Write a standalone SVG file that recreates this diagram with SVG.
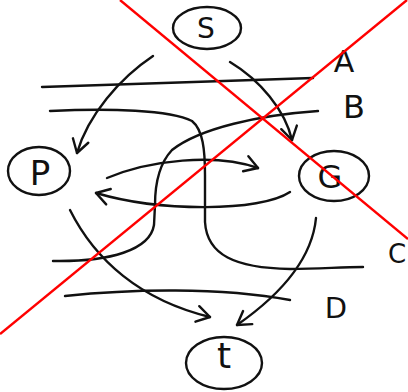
<svg xmlns="http://www.w3.org/2000/svg" width="408" height="392" viewBox="0 0 408 392">
<defs>
<style>
.ln{fill:none;stroke:#111;stroke-width:2.4;stroke-linecap:round;stroke-linejoin:round}
.nd{fill:#fff;stroke:#111;stroke-width:2.4}
.tx{font-family:"DejaVu Sans","Liberation Sans",sans-serif;fill:#111;text-anchor:middle}
.red{stroke:#f00;stroke-width:2.4;fill:none}
</style>
<marker id="ah" markerUnits="userSpaceOnUse" markerWidth="24" markerHeight="24" viewBox="-16 -12 24 24" refX="0" refY="0" orient="auto">
<path d="M-13,-8 L0,0 L-13,8" fill="none" stroke="#111" stroke-width="2.4" stroke-linecap="round" stroke-linejoin="round"/>
</marker>
</defs>
<rect width="408" height="392" fill="#fff"/>
<g id="cuts">
<path class="ln" d="M42,87 C120,85 240,80 313,78"/>
<path class="ln" d="M50,111 C110,108 170,110 192,121 C203,130 205,150 205,175 L205,222 C207,255 235,268 290,269 C320,269 340,267 363,267"/>
<path class="ln" d="M318,111 C260,115 200,128 172,150 C158,165 155,185 155,205 L154,225 C150,250 110,262 53,261"/>
<path class="ln" d="M65,296 C130,289 220,287 290,300"/>
</g>
<g id="connectors">
<path class="ln" d="M153,56 C120,78 88,115 77,153" marker-end="url(#ah)"/>
<path class="ln" d="M230,62 C260,80 285,110 292,140" marker-end="url(#ah)"/>
<path class="ln" d="M107,178 C150,160 215,153 258,168" marker-end="url(#ah)"/>
<path class="ln" d="M290,192 C260,212 160,212 96,193" marker-end="url(#ah)"/>
<path class="ln" d="M70,210 C95,260 140,300 210,317" marker-end="url(#ah)"/>
<path class="ln" d="M316,218 C312,260 280,295 237,325" marker-end="url(#ah)"/>
</g>
<g id="node-S">
<ellipse class="nd" cx="207" cy="28" rx="34" ry="21"/>
<text class="tx" x="206" y="38" font-size="28">S</text>
</g>
<g id="node-P">
<ellipse class="nd" cx="39" cy="171" rx="31" ry="24"/>
<text class="tx" x="40" y="185" font-size="34">P</text>
</g>
<g id="node-G">
<ellipse class="nd" cx="334" cy="176" rx="35" ry="25"/>
<text class="tx" x="330" y="188" font-size="32">G</text>
</g>
<g id="node-t">
<ellipse class="nd" cx="224" cy="363" rx="38" ry="26"/>
<text class="tx" x="224" y="368" font-size="36">t</text>
</g>
<g id="labels">
<text class="tx" x="344" y="72" font-size="30">A</text>
<text class="tx" x="354" y="118" font-size="32">B</text>
<text class="tx" x="397" y="263" font-size="26">C</text>
<text class="tx" x="336" y="318" font-size="29">D</text>
</g>
<g id="cross">
<line class="red" x1="120" y1="0" x2="408" y2="239"/>
<line class="red" x1="0" y1="334" x2="407" y2="0"/>
</g>
</svg>
